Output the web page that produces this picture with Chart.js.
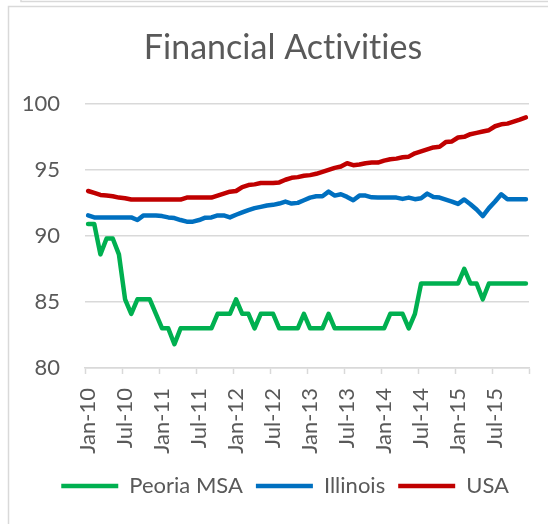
<!DOCTYPE html>
<html>
<head>
<meta charset="utf-8">
<script src="https://cdn.jsdelivr.net/npm/chart.js@4"></script>
<style>
  html, body { margin: 0; padding: 0; background: #fff; }
  #wrap { width: 548px; height: 524px; position: relative; }
</style>
</head>
<body>
<div id="wrap"><canvas id="finChart" width="548" height="524"></canvas></div>
<script>
// data
const years = ['10', '11', '12', '13', '14', '15'];
const monthNames = ['Jan', 'Feb', 'Mar', 'Apr', 'May', 'Jun', 'Jul', 'Aug', 'Sep', 'Oct', 'Nov', 'Dec'];
const tickLabels = ['Jan-10', 'Jul-10', 'Jan-11', 'Jul-11', 'Jan-12', 'Jul-12',
                    'Jan-13', 'Jul-13', 'Jan-14', 'Jul-14', 'Jan-15', 'Jul-15'];

const peoria = [90.9, 90.9, 88.6, 89.8, 89.8, 88.6, 85.2, 84.1, 85.2, 85.2, 85.2, 84.1,
  83.0, 83.0, 81.8, 83.0, 83.0, 83.0, 83.0, 83.0, 83.0, 84.1, 84.1, 84.1,
  85.2, 84.1, 84.1, 83.0, 84.1, 84.1, 84.1, 83.0, 83.0, 83.0, 83.0, 84.1,
  83.0, 83.0, 83.0, 84.1, 83.0, 83.0, 83.0, 83.0, 83.0, 83.0, 83.0, 83.0,
  83.0, 84.1, 84.1, 84.1, 83.0, 84.1, 86.4, 86.4, 86.4, 86.4, 86.4, 86.4,
  86.4, 87.5, 86.4, 86.4, 85.2, 86.4, 86.4, 86.4, 86.4, 86.4, 86.4, 86.4];

const illinois = [91.55, 91.4, 91.4, 91.4, 91.4, 91.4, 91.4, 91.4, 91.2, 91.55, 91.55, 91.55,
  91.5, 91.4, 91.35, 91.2, 91.08, 91.08, 91.2, 91.38, 91.4, 91.55, 91.55, 91.4,
  91.6, 91.78, 91.95, 92.1, 92.2, 92.3, 92.35, 92.45, 92.6, 92.45, 92.5, 92.7,
  92.9, 93.0, 93.0, 93.35, 93.05, 93.15, 92.95, 92.7, 93.05, 93.05, 92.92, 92.9,
  92.9, 92.9, 92.9, 92.8, 92.9, 92.78, 92.85, 93.2, 92.95, 92.9, 92.75, 92.6,
  92.42, 92.76, 92.4, 92.0, 91.5, 92.1, 92.6, 93.15, 92.78, 92.78, 92.78, 92.78];

const usa = [93.4, 93.25, 93.1, 93.05, 93.0, 92.9, 92.85, 92.75, 92.75, 92.75, 92.75, 92.75,
  92.75, 92.75, 92.75, 92.75, 92.9, 92.9, 92.9, 92.9, 92.9, 93.05, 93.2, 93.35,
  93.4, 93.7, 93.85, 93.9, 94.0, 94.0, 94.0, 94.05, 94.25, 94.4, 94.45, 94.55,
  94.6, 94.7, 94.85, 95.0, 95.15, 95.25, 95.5, 95.35, 95.4, 95.5, 95.55, 95.55,
  95.7, 95.8, 95.85, 95.95, 96.0, 96.25, 96.4, 96.55, 96.7, 96.75, 97.1, 97.15,
  97.45, 97.5, 97.7, 97.8, 97.9, 98.0, 98.3, 98.45, 98.5, 98.65, 98.8, 98.97];

const labels = [];
years.forEach(y => monthNames.forEach(m => labels.push(m + '-' + y)));

const textGray = '#595959';
const gridGray = '#d9d9d9';
const fontFamily = 'Lato, "Open Sans", sans-serif';

// frame, no ligatures, and title/legend nudged right like the original
const framePlugin = {
  id: 'frame',
  afterLayout(chart) {
    const t = chart.titleBlock;
    if (t) { t.left += 18.5; t.right += 18.5; }
    const l = chart.legend;
    if (l) { l.left += 20.5; l.right += 20.5; }
  },
  beforeDraw(chart) {
    const c = chart.ctx;
    // canvas state is reset on resize, so set it here; stops the "ti" ligature
    c.textRendering = 'optimizeSpeed';
    c.letterSpacing = '0.01px';
    c.save();
    c.strokeStyle = gridGray;
    c.lineWidth = 1.5;
    c.beginPath();
    c.moveTo(8.5, 524);
    c.lineTo(8.5, 6.5);
    c.lineTo(548, 6.5);
    c.moveTo(21, 0);
    c.lineTo(21, 1.5);
    c.lineTo(548, 1.5);
    c.stroke();
    c.restore();
  }
};

function series(label, data, color) {
  return {
    label: label,
    data: data,
    borderColor: color,
    backgroundColor: color,
    borderWidth: 4.5,
    borderCapStyle: 'round',
    borderJoinStyle: 'round',
    pointRadius: 0,
    pointHoverRadius: 0,
    pointStyle: 'line',
    fill: false,
    tension: 0
  };
}

new Chart(document.getElementById('finChart'), {
  type: 'line',
  data: {
    labels: labels,
    datasets: [
      series('Peoria MSA', peoria, '#00b050'),
      series('Illinois', illinois, '#0070c0'),
      series('USA', usa, '#c00000')
    ]
  },
  options: {
    responsive: false,
    animation: false,
    layout: { padding: { left: 0, right: 19, top: 0, bottom: 17 } },
    plugins: {
      title: {
        display: true,
        text: 'Financial Activities',
        color: textGray,
        font: { family: fontFamily, size: 34, weight: 'normal' },
        padding: { top: 28, bottom: 35 }
      },
      legend: {
        position: 'bottom',
        labels: {
          color: textGray,
          font: { family: fontFamily, size: 22 },
          usePointStyle: true,
          pointStyleWidth: 57,
          padding: 13
        }
      },
      tooltip: { enabled: false }
    },
    scales: {
      x: {
        offset: true,
        grid: {
          offset: true,
          drawOnChartArea: false,
          tickLength: 6,
          tickWidth: 1.5,
          tickColor: c => (c.type !== 'tick' || c.index % 6 === 0) ? gridGray : 'rgba(0,0,0,0)'
        },
        border: { color: gridGray, width: 1.5 },
        ticks: {
          autoSkip: false,
          minRotation: 90,
          maxRotation: 90,
          padding: 14,
          color: textGray,
          font: { family: fontFamily, size: 22 },
          callback: (v, i) => i % 6 === 0 ? tickLabels[i / 6] : ''
        },
        afterFit: s => {
          s.height = 94;
          s.paddingLeft = 0;
          s.paddingRight = 0;
        }
      },
      y: {
        min: 80,
        max: 100,
        grid: { color: gridGray, lineWidth: 1.5, drawTicks: false },
        border: { display: false },
        ticks: {
          stepSize: 5,
          padding: 25,
          color: textGray,
          font: { family: fontFamily, size: 22 }
        },
        afterFit: s => { s.width = 85; }
      }
    }
  },
  plugins: [framePlugin]
});
</script>
</body>
</html>
